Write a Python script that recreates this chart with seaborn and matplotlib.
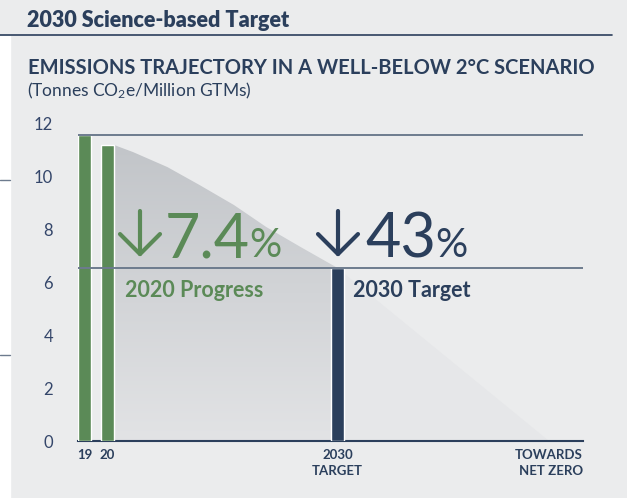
import numpy as np
import pandas as pd
import seaborn as sns
import matplotlib.pyplot as plt
from matplotlib.patches import Polygon, Rectangle, FancyArrowPatch
from matplotlib.lines import Line2D
from matplotlib.colors import LinearSegmentedColormap

# data
bar_years = [2019, 2020, 2030]
bar_values = [11.58, 11.2, 6.55]
bar_names = ['19', '20', '2030\nTARGET']
bar_colors = ['#5b8a57', '#5b8a57', '#2b3f5c']

traj_years = [2020.3, 2021.1, 2022.6, 2024.0, 2025.5, 2026.9, 2028.4, 2030.0]
traj_values = [11.2, 10.94, 10.37, 9.69, 8.93, 8.10, 7.34, 6.55]
tail_years = [2030, 2039.2]
tail_values = [6.55, 0.0]

ref_lines = [11.58, 6.55]
yticks = [0, 2, 4, 6, 8, 10, 12]
end_label = 'TOWARDS\nNET ZERO'

GREEN = '#5b8a57'
NAVY = '#2b3f5c'
BG = '#ebeced'

sns.set_theme(style='white')
plt.rcParams['font.family'] = ['Lato', 'DejaVu Sans']
plt.rcParams['mathtext.fontset'] = 'custom'
plt.rcParams['mathtext.rm'] = 'Lato'
plt.rcParams['mathtext.default'] = 'regular'

W, H = 627, 498
def px(x, y):
    return x / W, 1 - y / H

fig = plt.figure(figsize=(W / 100, H / 100), dpi=100, facecolor=BG)
ax = fig.add_axes([78 / W, 57 / H, 505 / W, 317 / H])
ax.set_facecolor('none')

# left white strip + header rule + small decorative rules
fig.add_artist(Rectangle((0, 0), 10 / W, (H - 36) / H, transform=fig.transFigure,
                         color='white', zorder=0))
fig.add_artist(Line2D([0, 612 / W], [px(0, 35)[1]] * 2, transform=fig.transFigure,
                      color=NAVY, lw=1.2))
for yy in [180, 355]:
    fig.add_artist(Line2D([0, 10 / W], [px(0, yy)[1]] * 2, transform=fig.transFigure,
                          color='#6d7b8e', lw=1))

# shaded trajectory (gradient clipped to area under the curve)
verts = list(zip(traj_years, traj_values)) + [(traj_years[-1], 0), (traj_years[0], 0)]
poly = Polygon(verts, closed=True, facecolor='none', edgecolor='none')
ax.add_patch(poly)
cmap = LinearSegmentedColormap.from_list('g', ['#e2e3e5', '#c2c5c9'])
grad = np.linspace(0, 1, 256).reshape(-1, 1)
im = ax.imshow(grad, cmap=cmap, origin='lower', aspect='auto',
               extent=[traj_years[0], traj_years[-1], 0, max(traj_values)], zorder=1)
im.set_clip_path(poly)
ax.fill_between(tail_years, tail_values, color='#e6e7e9', lw=0, zorder=1)

df = pd.DataFrame({'year': bar_years, 'value': bar_values, 'name': bar_names})
sns.barplot(data=df, x='year', y='value', hue='name', palette=dict(zip(bar_names, bar_colors)),
            native_scale=True, width=0.57, legend=False, saturation=1, ax=ax, zorder=3)

for v in ref_lines:
    ax.axhline(v, color='#6d7b8e', lw=1.4, zorder=4)

ax.set_xlim(2018.715, 2040.67)
ax.set_ylim(0, 12)
sns.despine(ax=ax, left=True)
ax.spines['bottom'].set_color(NAVY)
ax.spines['bottom'].set_linewidth(1.5)
ax.set_xlabel('')
ax.set_ylabel('')

ax.set_yticks(yticks)
ax.set_yticklabels([str(t) for t in yticks], fontsize=12, color='#34466a')
ax.set_xticks(bar_years + [2040.67])
ax.set_xticklabels(bar_names + [end_label], fontsize=9.5, fontweight='bold', color=NAVY,
                   linespacing=1.35)
ax.get_xticklabels()[-1].set_ha('right')
ax.tick_params(axis='y', length=0, pad=18)
ax.tick_params(axis='x', length=0, pad=6)

# headings
fig.text(*px(27, 27), '2030 Science-based Target', fontsize=15.5, fontweight='heavy',
         color=NAVY, va='baseline')
fig.text(*px(28, 74), 'EMISSIONS TRAJECTORY IN A WELL-BELOW 2°C SCENARIO', fontsize=14.5,
         fontweight='bold', color=NAVY, va='baseline')
fig.text(*px(27, 96), '(Tonnes CO$_2$e/Million GTMs)', fontsize=12.5, color=NAVY,
         va='baseline')

# big callouts
def down_arrow(x, color):
    fig.add_artist(FancyArrowPatch(px(x, 211), px(x, 257), transform=fig.transFigure,
                                   arrowstyle='->,head_length=0.9,head_width=0.9',
                                   mutation_scale=16, lw=3, color=color,
                                   shrinkA=0, shrinkB=0))

def callout(x, arrow_x, number, color):
    down_arrow(arrow_x, color)
    t = fig.text(*px(x, 257), number, fontsize=44, color=color, va='baseline')
    fig.canvas.draw()
    bb = t.get_window_extent()
    fig.text((bb.x1 - 1) / W, px(0, 257)[1], '%', fontsize=29, color=color, va='baseline')

callout(165, 140, '7.4', GREEN)
fig.text(*px(125, 297), '2020 Progress', fontsize=15.5, fontweight='bold', color=GREEN,
         va='baseline')

callout(365, 338, '43', NAVY)
fig.text(*px(353, 297), '2030 Target', fontsize=15.5, fontweight='bold', color=NAVY,
         va='baseline')

fig.savefig('out.png', dpi=100, facecolor=fig.get_facecolor())
